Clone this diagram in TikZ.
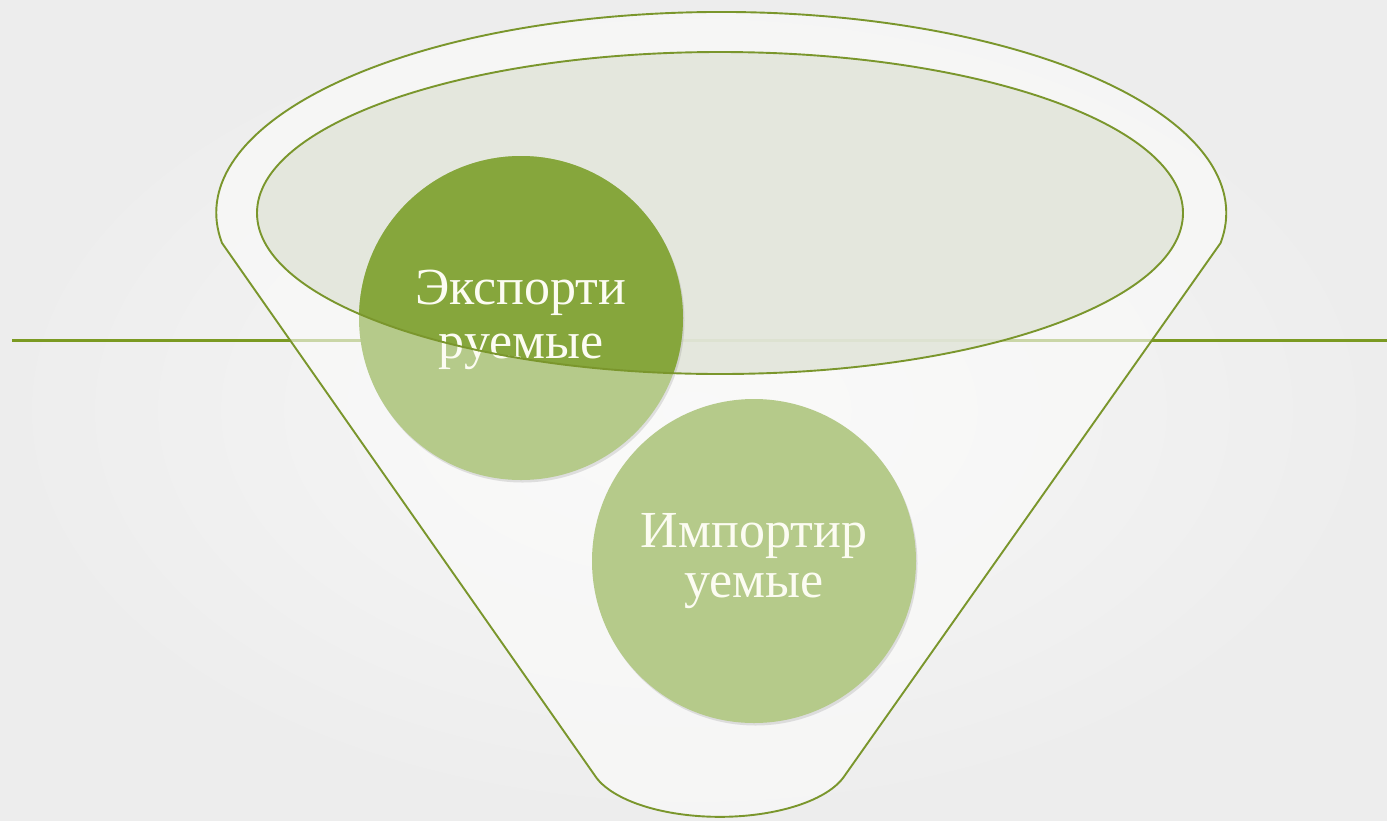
\documentclass[tikz,border=0pt]{standalone}
\usepackage{fontspec}
\setmainfont{Liberation Serif}
\usetikzlibrary{shadows}
\definecolor{lineol}{HTML}{7B9A22}
\definecolor{edgeol}{HTML}{7A962C}
\definecolor{lightgr}{HTML}{B5CA8A}
\definecolor{darkgr}{HTML}{86A63C}
\definecolor{ellfill}{HTML}{E1E5D9}
\definecolor{funfill}{HTML}{FBFBFA}
\definecolor{textc}{HTML}{FCFCF2}
\definecolor{bgin}{HTML}{F8F8F8}
\definecolor{bgout}{HTML}{EDEDED}
\begin{document}
\begin{tikzpicture}[x=1pt,y=-1pt,
  bubble/.style={circle, minimum size=324pt, inner sep=0pt, fill=lightgr,
    drop shadow={opacity=0.22, shadow xshift=1.5pt, shadow yshift=-2.5pt}},
  bubbletext/.style={text=textc, font=\fontsize{52}{52}\selectfont, align=center, inner sep=0pt},
  outline/.style={draw=edgeol, line width=1.9pt}]
\useasboundingbox (0,0) rectangle (1387,820);
\shade[inner color=bgin, outer color=bgout] (0,0) rectangle (1387,820);
% horizontal line
\coordinate (hl) at (12,340);
\coordinate (hr) at (1387,340);
\draw[lineol, line width=3pt] (hl) -- (hr);
% funnel fill
\path[fill=funfill, fill opacity=0.62] (222,243) arc[start angle=171.4, end angle=368.6, x radius=505, y radius=201]
  -- (843,778) arc[start angle=18.6, end angle=161.4, x radius=130, y radius=57] -- cycle;
% inner ellipse fill
\path[fill=ellfill, fill opacity=0.85] (720,213) ellipse[x radius=463, y radius=161];
% circles
\node[bubble] (imp) at (754,561) {};
\node[bubbletext] (imptext) at (754,561) {Импортир\\[-2pt]уемые};
\node[bubble] (exp) at (521,318) {};
\begin{scope}
  \clip (720,213) ellipse[x radius=463, y radius=161];
  \fill[darkgr] (exp.center) circle[radius=162];
\end{scope}
\node[bubbletext] (exptext) at (521,320) {Экспорти\\[2pt]руемые};
% outlines
\draw[outline] (720,213) ellipse[x radius=463, y radius=161];
\draw[outline, line join=round] (222,243) arc[start angle=171.4, end angle=368.6, x radius=505, y radius=201]
  -- (843,778) arc[start angle=18.6, end angle=161.4, x radius=130, y radius=57] -- cycle;
\end{tikzpicture}
\end{document}
